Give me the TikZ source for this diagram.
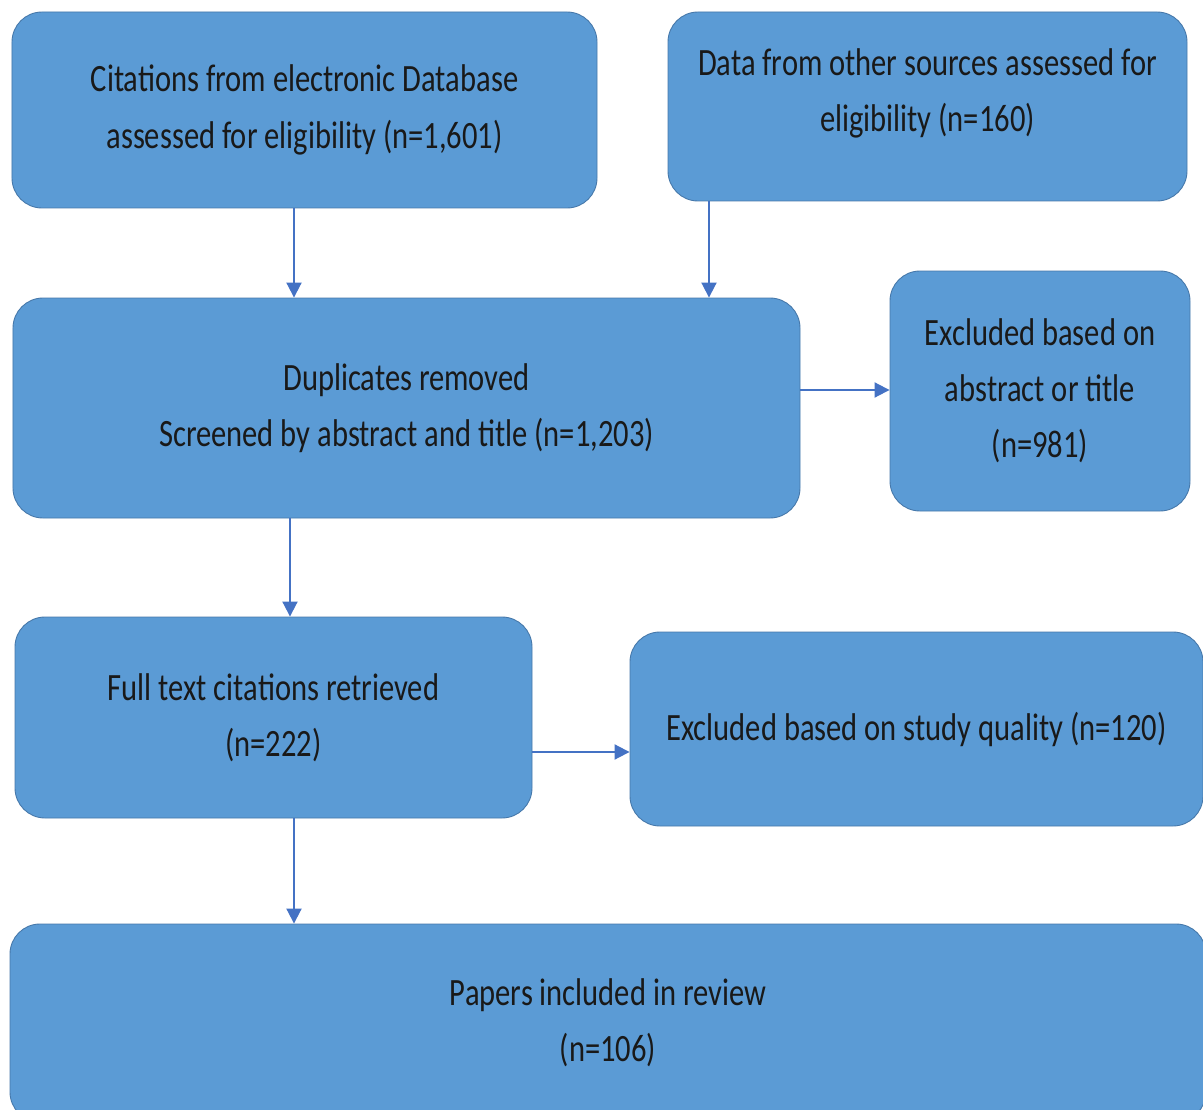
\documentclass[tikz,border=0pt]{standalone}
\usepackage{fontspec}
\setmainfont[FakeStretch=0.79]{Carlito}
\usepackage{tikz}
\usepackage{xcolor}
\usetikzlibrary{arrows.meta, positioning, calc}
\definecolor{boxblue}{RGB}{91, 155, 213}
\definecolor{boxedge}{RGB}{70, 120, 170}
\definecolor{arrowblue}{RGB}{68, 114, 196}

\begin{document}
\begin{tikzpicture}[
    box/.style={rectangle, rounded corners=6mm, draw=boxedge, line width=0.5pt, fill=boxblue, align=center, text=black!90, font=\fontsize{22}{32}\selectfont},
    arrow/.style={-{Triangle[length=3mm, width=3mm]}, line width=1.1pt, arrowblue}
]
\useasboundingbox (0,0) rectangle (24.06,-22.20);

% Sources
\node[box, minimum width=11.70cm, minimum height=3.92cm] (cite) at (6.09,-2.20)
    {Citations from electronic Database\\assessed for eligibility (n=1,601)};
\node[box, minimum width=10.38cm, minimum height=3.78cm] (other) at (18.55,-2.13)
    {Data from other sources assessed for\\eligibility (n=160)\rule[-0.67cm]{0pt}{0pt}};

% Screening
\node[box, minimum width=15.74cm, minimum height=4.40cm] (dup) at (8.13,-8.16)
    {Duplicates removed\\Screened by abstract and title (n=1,203)};
\node[box, minimum width=6.00cm, minimum height=4.80cm] (exabs) at (20.80,-7.82)
    {Excluded based on\\abstract or title\\(n=981)};

% Full text
\node[box, minimum width=10.34cm, minimum height=4.02cm] (full) at (5.47,-14.35)
    {Full text citations retrieved\\(n=222)};
\node[box, minimum width=11.46cm, minimum height=3.88cm] (exqual) at (18.33,-14.58)
    {Excluded based on study quality (n=120)};

% Included
\node[box, minimum width=23.92cm, minimum height=3.96cm] (incl) at (12.16,-20.46)
    {Papers included in review\\(n=106)};

\draw[arrow] ([xshift=-2.1mm]cite.south) -- ([xshift=-2.1mm]cite.south |- dup.north);
\draw[arrow] ([xshift=-43.7mm]other.south) -- ([xshift=-43.7mm]other.south |- dup.north);
\draw[arrow] ([yshift=3.6mm]dup.east) -- ([yshift=3.6mm]dup.east -| exabs.west);
\draw[arrow] ([xshift=-23.3mm]dup.south) -- ([xshift=-23.3mm]dup.south |- full.north);
\draw[arrow] ([yshift=-6.9mm]full.east) -- ([yshift=-6.9mm]full.east -| exqual.west);
\draw[arrow] ([xshift=4.1mm]full.south) -- ([xshift=4.1mm]full.south |- incl.north);

\end{tikzpicture}
\end{document}
